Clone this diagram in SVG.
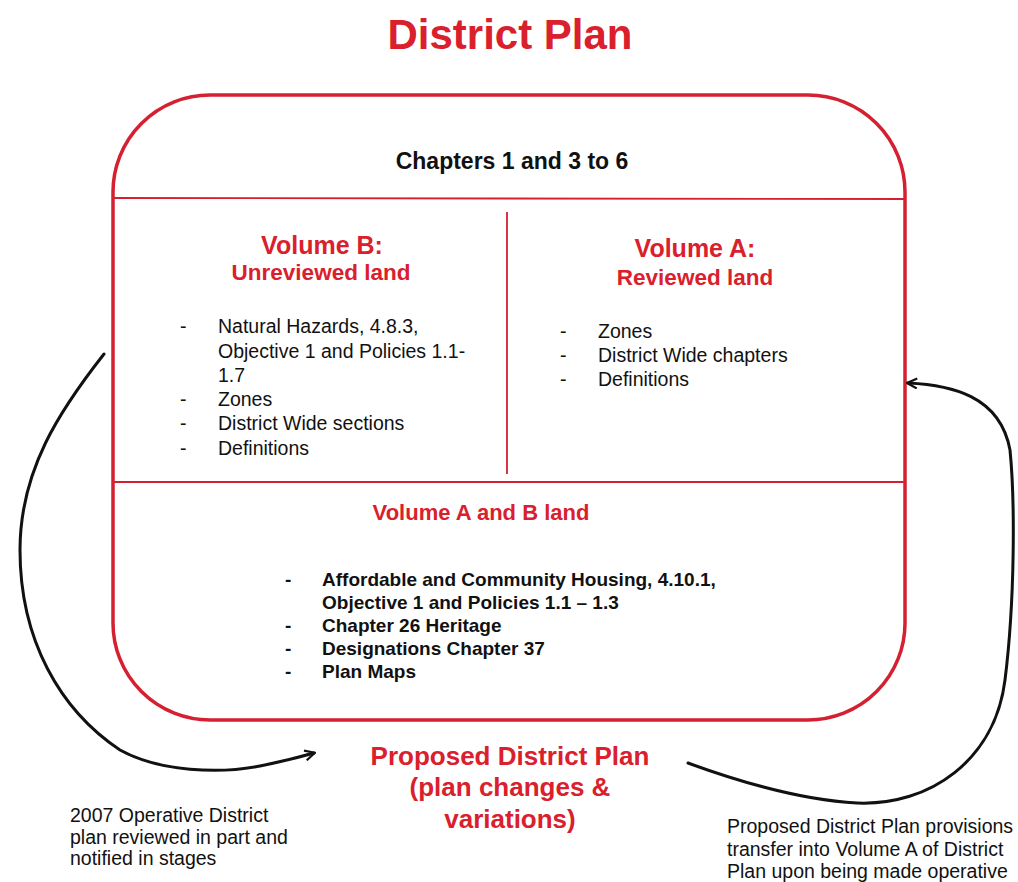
<svg xmlns="http://www.w3.org/2000/svg" width="1018" height="882" viewBox="0 0 1018 882">
<style>
.t{font-family:"Liberation Sans",Arial,sans-serif;}
.red{fill:#d9202c;}
.blk{fill:#111;}
.b{font-weight:bold;}
.sm{font-size:19.5px;}
.bl{font-size:19px;font-weight:bold;}
.line{stroke:#d42030;fill:none;}
.conn{stroke:#111;stroke-width:3;fill:none;stroke-linecap:round;}
</style>
<defs>
<marker id="ah" viewBox="0 0 12 12" refX="10" refY="6" markerWidth="12" markerHeight="12" markerUnits="userSpaceOnUse" orient="auto">
<path d="M1,1 L11,6 L1,11" fill="none" stroke="#111" stroke-width="2.2" stroke-linejoin="round"/>
</marker>
</defs>
<rect width="1018" height="882" fill="#fff"/>
<g id="title"><text class="t red b" x="510" y="49" font-size="42" text-anchor="middle">District Plan</text></g>
<g id="district-plan-box">
<rect class="line" x="113" y="95" width="792" height="625" rx="97" ry="97" stroke-width="3.5"/>
<line class="line" x1="113" y1="198" x2="905" y2="199" stroke-width="1.8"/>
<line class="line" x1="507" y1="212" x2="507" y2="474" stroke-width="1.8"/>
<line class="line" x1="113" y1="482" x2="905" y2="482" stroke-width="1.8"/>
</g>
<g id="chapters"><text class="t blk b" x="512" y="169" font-size="23" text-anchor="middle">Chapters 1 and 3 to 6</text></g>
<g id="volume-b">
<text class="t red b" x="322" y="254" font-size="25" text-anchor="middle">Volume B:</text>
<text class="t red b" x="321" y="280" font-size="22.5" text-anchor="middle">Unreviewed land</text>
<g class="t blk sm">
<text x="180" y="333">-</text><text x="218" y="333">Natural Hazards, 4.8.3,</text>
<text x="218" y="358">Objective 1 and Policies 1.1-</text>
<text x="218" y="382">1.7</text>
<text x="180" y="406">-</text><text x="218" y="406">Zones</text>
<text x="180" y="430">-</text><text x="218" y="430">District Wide sections</text>
<text x="180" y="455">-</text><text x="218" y="455">Definitions</text>
</g>
</g>
<g id="volume-a">
<text class="t red b" x="695" y="257" font-size="25" text-anchor="middle">Volume A:</text>
<text class="t red b" x="695" y="285" font-size="22.5" text-anchor="middle">Reviewed land</text>
<g class="t blk sm">
<text x="560" y="338">-</text><text x="598" y="338">Zones</text>
<text x="560" y="362">-</text><text x="598" y="362">District Wide chapters</text>
<text x="560" y="386">-</text><text x="598" y="386">Definitions</text>
</g>
</g>
<g id="volume-a-and-b">
<text class="t red b" x="481" y="520" font-size="22" text-anchor="middle">Volume A and B land</text>
<g class="t blk bl">
<text x="285" y="586">-</text><text x="322" y="586">Affordable and Community Housing, 4.10.1,</text>
<text x="322" y="609">Objective 1 and Policies 1.1 – 1.3</text>
<text x="285" y="632">-</text><text x="322" y="632">Chapter 26 Heritage</text>
<text x="285" y="655">-</text><text x="322" y="655">Designations Chapter 37</text>
<text x="285" y="678">-</text><text x="322" y="678">Plan Maps</text>
</g>
</g>
<g id="proposed-plan">
<text class="t red b" x="510" y="765" font-size="26" text-anchor="middle">Proposed District Plan</text>
<text class="t red b" x="510" y="796" font-size="26" text-anchor="middle">(plan changes &amp;</text>
<text class="t red b" x="510" y="828" font-size="26" text-anchor="middle">variations)</text>
</g>
<g id="note-left" class="t blk sm">
<text x="70" y="822">2007 Operative District</text>
<text x="70" y="844">plan reviewed in part and</text>
<text x="70" y="865">notified in stages</text>
</g>
<g id="note-right" class="t blk sm">
<text x="727" y="833">Proposed District Plan provisions</text>
<text x="727" y="856">transfer into Volume A of District</text>
<text x="727" y="878">Plan upon being made operative</text>
</g>
<g id="connectors">
<path class="conn" marker-end="url(#ah)" d="M104,354 C60,410 20,470 20,550 C20,640 60,710 120,750 C160,772 220,774 260,766 C285,761 300,757 314,753"/>
<path class="conn" marker-end="url(#ah)" d="M688,763 C740,782 800,800 857,803 C930,806 995,760 1005,680 C1015,600 1015,500 1010,450 C1000,395 950,385 908,383"/>
</g>
</svg>
